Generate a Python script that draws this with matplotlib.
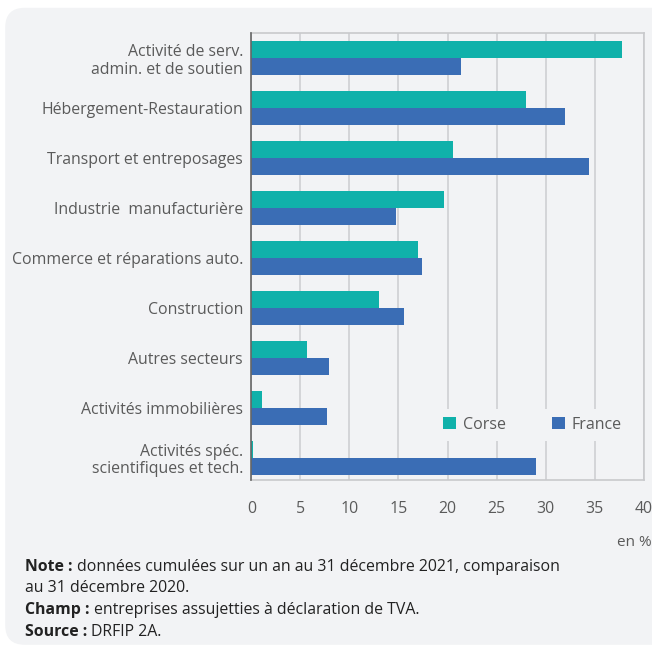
import numpy as np
import matplotlib.pyplot as plt
from matplotlib.patches import FancyBboxPatch

plt.rcParams['font.family'] = ['Open Sans', 'DejaVu Sans']

categories = ["Activité de serv.\nadmin. et de soutien", "Hébergement-Restauration",
              "Transport et entreposages", "Industrie  manufacturière",
              "Commerce et réparations auto.", "Construction", "Autres secteurs",
              "Activités immobilières", "Activités spéc.\nscientifiques et tech."]
corse = [37.8, 28.0, 20.6, 19.6, 17.0, 13.0, 5.7, 1.1, 0.2]
france = [21.4, 32.0, 34.4, 14.8, 17.4, 15.6, 7.9, 7.7, 29.0]
xticks = [0, 5, 10, 15, 20, 25, 30, 35, 40]

bg = '#f2f3f5'
teal = '#10b1aa'
blue = '#3a6db5'
txt = '#5a5a5a'

fig = plt.figure(figsize=(6.52, 6.5), dpi=100, facecolor='white')
# fond arrondi
box = FancyBboxPatch((0.008, 0.008), 1.1, 0.98, boxstyle="round,pad=0,rounding_size=0.03",
                     transform=fig.transFigure, facecolor=bg, edgecolor='none', zorder=-10)
fig.patches.append(box)

ax = fig.add_axes([251.3 / 652, 1 - 480 / 650, (643.7 - 251.3) / 652, (480 - 33) / 650])
ax.set_facecolor(bg)

y = np.arange(len(categories))
h = 0.34
ax.barh(y - h / 2, corse, height=h, color=teal, label='Corse', zorder=3)
ax.barh(y + h / 2, france, height=h, color=blue, label='France', zorder=3)

ax.set_ylim(8.45, -0.5)
ax.set_xlim(0, 40)
ax.set_xticks(xticks)
ax.set_yticks(y)
ax.set_yticklabels(categories, fontsize=11.4, color=txt, linespacing=1.15)
ax.tick_params(axis='y', length=0, pad=6)
ax.tick_params(axis='x', length=0, pad=15, labelsize=11.4, labelcolor=txt)
ax.grid(axis='x', color='#cfd0d3', linewidth=1.2, zorder=0)
for s in ['top', 'right', 'bottom']:
    ax.spines[s].set_color('#c8c9cc')
    ax.spines[s].set_linewidth(1.2)
ax.spines['left'].set_color('#666666')
ax.spines['left'].set_linewidth(1.2)
ax.spines['left'].set_zorder(4)

leg = ax.legend(loc='lower right', bbox_to_anchor=(0.985, 0.07), ncol=2, frameon=True,
                facecolor=bg, edgecolor='none', framealpha=1, fontsize=11.5,
                handlelength=0.78, handleheight=0.78, columnspacing=2.9, handletextpad=0.45,
                borderpad=0.5)
for t in leg.get_texts():
    t.set_color(txt)
leg.set_zorder(5)

fig.text(1.0, 1 - 543 / 650, "en %", ha='right', va='center', fontsize=11, color=txt)

notes = [("Note : ", "données cumulées sur un an au 31 décembre 2021, comparaison"),
         ("", "au 31 décembre 2020."),
         ("Champ : ", "entreprises assujetties à déclaration de TVA."),
         ("Source : ", "DRFIP 2A.")]
ys = [567, 588, 610, 632]
for (b, r), yy in zip(notes, ys):
    yf = 1 - yy / 650
    if b:
        t = fig.text(25 / 652, yf, b, ha='left', va='center', fontsize=11.4,
                     fontweight='bold', color='#222222')
        fig.canvas.draw()
        bb = t.get_window_extent()
        x2 = bb.x1 / fig.bbox.width
    else:
        x2 = 25 / 652
    fig.text(x2, yf, r, ha='left', va='center', fontsize=11.4, color='#222222')

fig.savefig('out.png', dpi=100, facecolor='white')
